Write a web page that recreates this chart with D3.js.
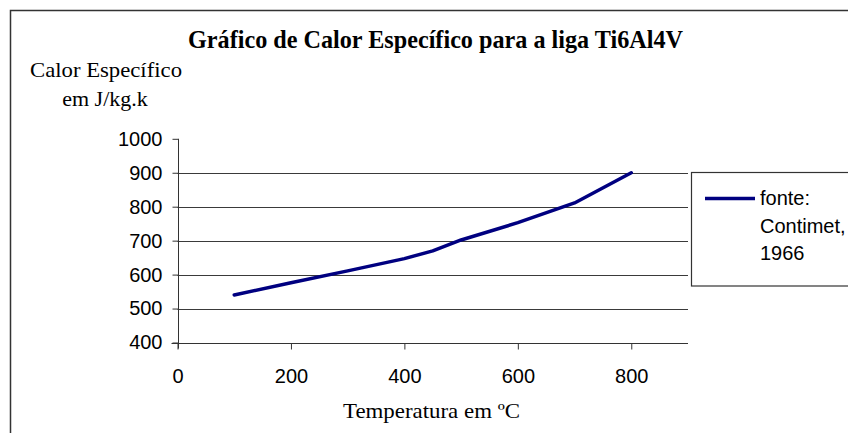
<!DOCTYPE html>
<html>
<head>
<meta charset="utf-8">
<script src="https://cdn.jsdelivr.net/npm/d3@7"></script>
<style>
    body { margin: 0; background: #fff; }
    svg { display: block; }
</style>
</head>
<body>
<div id="chart"></div>
<script>

// data
var temperatures = [100, 200, 300, 400, 450, 500, 600, 700, 800];
var specificHeat = [540, 576, 611, 647, 670, 702, 753, 811, 900];
var xTicks = [0, 200, 400, 600, 800];
var yTicks = [400, 500, 600, 700, 800, 900, 1000];
var legendLines = ["fonte:", "Contimet,", "1966"];

var width = 848,
    height = 433;

var svg = d3.select("#chart").append("svg")
    .attr("width", width)
    .attr("height", height);

// outer frame (runs off the right and bottom)
svg.append("rect")
    .attr("x", 10.5)
    .attr("y", 10.5)
    .attr("width", 860)
    .attr("height", 450)
    .attr("fill", "none")
    .attr("stroke", "#333")
    .attr("stroke-width", 1.5);

var x = d3.scaleLinear().domain([0, 900]).range([177.5, 688]);
var y = d3.scaleLinear().domain([400, 1000]).range([342.5, 138.8]);

// gridlines
svg.append("g")
    .selectAll("line")
    .data(yTicks.filter(function(d) { return d > 400 && d < 1000; }))
    .enter().append("line")
    .attr("x1", x(0))
    .attr("x2", x(900))
    .attr("y1", function(d) { return Math.round(y(d)) + 0.5; })
    .attr("y2", function(d) { return Math.round(y(d)) + 0.5; })
    .attr("stroke", "#3a3a3a")
    .attr("stroke-width", 1);

// y axis
var yAxis = d3.axisLeft(y)
    .tickValues(yTicks)
    .tickFormat(d3.format("d"))
    .tickSize(6)
    .tickSizeOuter(0)
    .tickPadding(10);

var gy = svg.append("g")
    .attr("transform", "translate(" + (Math.round(x(0)) + 0.5) + ",0)")
    .call(yAxis);

gy.select(".domain").remove();
gy.selectAll(".tick line").attr("stroke", "#333");
gy.selectAll(".tick text")
    .attr("font-family", "'Liberation Sans', Arial, sans-serif")
    .attr("font-size", 20)
    .attr("fill", "#000");

// x axis
var xAxis = d3.axisBottom(x)
    .tickValues(xTicks)
    .tickFormat(d3.format("d"))
    .tickSize(6)
    .tickSizeOuter(0)
    .tickPadding(19);

var gx = svg.append("g")
    .attr("transform", "translate(0," + (Math.round(y(400)) + 0.5) + ")")
    .call(xAxis);

gx.select(".domain").remove();
gx.selectAll(".tick line").attr("stroke", "#333");
gx.selectAll(".tick text")
    .attr("font-family", "'Liberation Sans', Arial, sans-serif")
    .attr("font-size", 20)
    .attr("fill", "#000");

// axis lines
svg.append("line")
    .attr("x1", Math.round(x(0)) + 0.5)
    .attr("x2", Math.round(x(0)) + 0.5)
    .attr("y1", y(1000))
    .attr("y2", y(400) + 6)
    .attr("stroke", "#333");

svg.append("line")
    .attr("x1", x(0) - 6)
    .attr("x2", x(900))
    .attr("y1", Math.round(y(400)) + 0.5)
    .attr("y2", Math.round(y(400)) + 0.5)
    .attr("stroke", "#333");

// series line
var points = temperatures.map(function(t, i) { return [t, specificHeat[i]]; });

var line = d3.line()
    .x(function(d) { return x(d[0]); })
    .y(function(d) { return y(d[1]); });

svg.append("path")
    .datum(points)
    .attr("d", line)
    .attr("fill", "none")
    .attr("stroke", "#000080")
    .attr("stroke-width", 3.5)
    .attr("stroke-linejoin", "round")
    .attr("stroke-linecap", "round");

// titles
svg.append("text")
    .attr("x", 435.5)
    .attr("y", 48)
    .attr("text-anchor", "middle")
    .attr("font-family", "'Liberation Serif', 'Times New Roman', serif")
    .attr("font-weight", "bold")
    .attr("font-size", 26)
    .attr("textLength", 495)
    .attr("lengthAdjust", "spacingAndGlyphs")
    .text("Gráfico de Calor Específico para a liga Ti6Al4V");

svg.append("text")
    .attr("x", 106)
    .attr("y", 77)
    .attr("text-anchor", "middle")
    .attr("font-family", "'Liberation Serif', 'Times New Roman', serif")
    .attr("font-size", 22)
    .attr("textLength", 152)
    .attr("lengthAdjust", "spacingAndGlyphs")
    .text("Calor Específico");

svg.append("text")
    .attr("x", 105)
    .attr("y", 106)
    .attr("text-anchor", "middle")
    .attr("font-family", "'Liberation Serif', 'Times New Roman', serif")
    .attr("font-size", 22)
    .text("em J/kg.k");

svg.append("text")
    .attr("x", 431.5)
    .attr("y", 418)
    .attr("text-anchor", "middle")
    .attr("font-family", "'Liberation Serif', 'Times New Roman', serif")
    .attr("font-size", 22)
    .attr("textLength", 177)
    .attr("lengthAdjust", "spacingAndGlyphs")
    .text("Temperatura em ºC");

// legend
var legend = svg.append("g");

legend.append("rect")
    .attr("x", 691.5)
    .attr("y", 172.5)
    .attr("width", 200)
    .attr("height", 113.5)
    .attr("fill", "#fff")
    .attr("stroke", "#333")
    .attr("stroke-width", 1.2);

legend.append("line")
    .attr("x1", 705)
    .attr("x2", 755)
    .attr("y1", 198.5)
    .attr("y2", 198.5)
    .attr("stroke", "#000080")
    .attr("stroke-width", 3.5);

legend.selectAll("text.entry")
    .data(legendLines)
    .enter().append("text")
    .attr("class", "entry")
    .attr("x", 760)
    .attr("y", function(d, i) { return 205 + i * 27.5; })
    .attr("font-family", "'Liberation Sans', Arial, sans-serif")
    .attr("font-size", 20)
    .attr("fill", "#000")
    .text(function(d) { return d; });

</script>
</body>
</html>
